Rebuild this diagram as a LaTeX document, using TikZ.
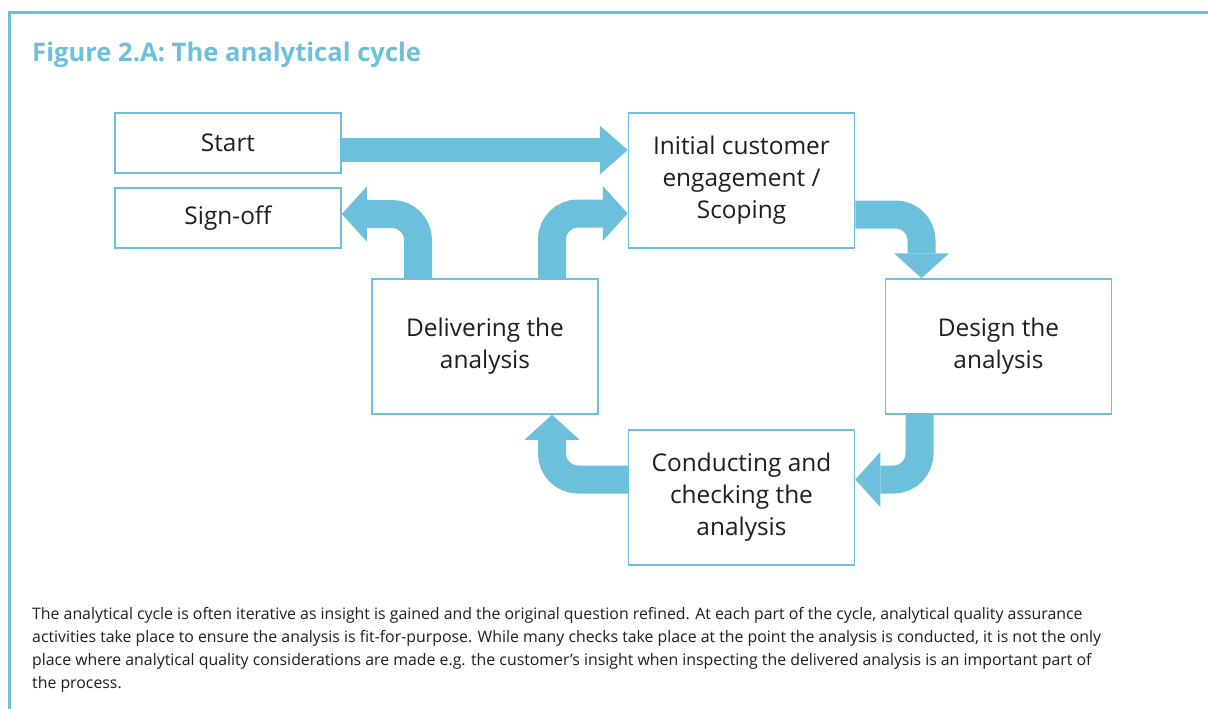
\documentclass[tikz,border=0pt]{standalone}
\usepackage{fontspec}
\setmainfont{Open Sans}
\usetikzlibrary{arrows.meta}

\definecolor{cycleblue}{RGB}{108,192,220}
\definecolor{textgrey}{RGB}{30,30,30}

\tikzset{
  stage/.style={draw=cycleblue, line width=1.5pt, minimum width=226pt, minimum height=135pt,
    inner sep=0pt, align=center, text=textgrey, font=\fontsize{24.4}{32}\selectfont},
  small stage/.style={stage, minimum height=60pt},
  flow/.style={draw=cycleblue, line width=28pt, rounded corners=26pt,
    -{Triangle[length=25pt,width=55pt,line width=0pt]}},
}

\begin{document}
\begin{tikzpicture}[x=1pt,y=-1pt]
  \useasboundingbox (0,0) rectangle (1208,709);
  % frame and title
  \draw[cycleblue, line width=3pt] (9.5,709) |- (1208,12.5);
  \node[anchor=base west, inner sep=0pt, text=cycleblue, font=\bfseries\fontsize{25.6}{30}\selectfont] (title) at (32,62) {Figure 2.A: The analytical cycle};

  % the stages
  \node[small stage] (start) at (228,143) {Start};
  \node[small stage] (signoff) at (228,218) {Sign-off};
  \node[stage] (scoping) at (741.5,180.5) {Initial customer\\engagement /\\Scoping};
  \node[stage] (design) at (998.5,346.5) {Design the\\analysis};
  \node[stage] (conduct) at (741.5,497.5) {Conducting and\\checking the\\analysis};
  \node[stage] (deliver) at (485,346.5) {Delivering the\\analysis};

  % block arrows
  \draw[flow, line width=24pt, -{Triangle[length=28pt,width=49pt,line width=0pt]}]
    ([yshift=-7pt]start.east) -- ([yshift=-7pt]start.east -| scoping.west);
  \draw[flow] ([yshift=-34pt]scoping.east) -| ([xshift=-77pt]design.north);
  \draw[flow] ([xshift=-79pt]design.south) |- ([yshift=18pt]conduct.east);
  \draw[flow] ([yshift=18pt]conduct.west) -| ([xshift=67pt]deliver.south);
  \draw[flow] ([xshift=67pt]deliver.north) |- ([yshift=-33pt]scoping.west);
  \draw[flow] ([xshift=-67pt]deliver.north) |- ([yshift=4pt]signoff.east);

  % note under the figure
  \node[anchor=base west, inner sep=0pt, align=left, text=textgrey, font=\fontsize{15.85}{22.7}\selectfont] (note) at (32,688)
    {The analytical cycle is often iterative as insight is gained and the original question refined. At each part of the cycle, analytical quality assurance\\
     activities take place to ensure the analysis is fit-for-purpose. While many checks take place at the point the analysis is conducted, it is not the only\\
     place where analytical quality considerations are made e.g. the customer’s insight when inspecting the delivered analysis is an important part of\\
     the process.};
\end{tikzpicture}
\end{document}
